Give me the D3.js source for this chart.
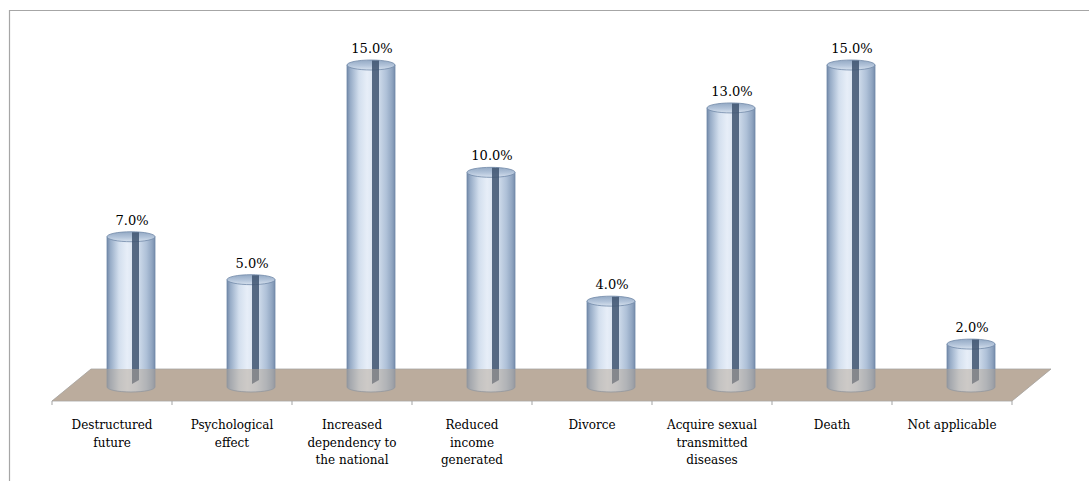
<!DOCTYPE html>
<html>
<head>
<meta charset="utf-8">
<script src="https://cdn.jsdelivr.net/npm/d3@7"></script>
<style>
  html, body { margin: 0; padding: 0; background: #fff; }
  svg { display: block; }
</style>
</head>
<body>
<script>
// Perceived consequences, share of respondents (%)
const categories = [
  "Destructured future",
  "Psychological effect",
  "Increased dependency to the national",
  "Reduced income generated",
  "Divorce",
  "Acquire sexual transmitted diseases",
  "Death",
  "Not applicable"
];
const values = [7.0, 5.0, 15.0, 10.0, 4.0, 13.0, 15.0, 2.0];
const labelLines = [
  ["Destructured", "future"],
  ["Psychological", "effect"],
  ["Increased", "dependency to", "the national"],
  ["Reduced", "income", "generated"],
  ["Divorce"],
  ["Acquire sexual", "transmitted", "diseases"],
  ["Death"],
  ["Not applicable"]
];

const W = 1089, H = 481;
const FONT = "DejaVu Serif, serif";
const svg = d3.select("body").append("svg").attr("width", W).attr("height", H);

// outer frame (top and left edges visible)
svg.append("path")
  .attr("d", `M9.5,${H} L9.5,10.5 L${W},10.5`)
  .attr("fill", "none").attr("stroke", "#a6a6a6").attr("stroke-width", 1.2);

// plot geometry
const x = d3.scaleBand().domain(categories).range([52, 1012]).paddingInner(0).paddingOuter(0);
const y = d3.scaleLinear().domain([0, 15]).range([387, 65]);
const floorFront = 401, floorBack = 369, depthX = 39;
const depthShift = 19;           // cylinders stand in the middle of the floor depth
const rx = 24, ry = 5;

const defs = svg.append("defs");
const bodyGrad = defs.append("linearGradient").attr("id", "cylBody")
  .attr("x1", "0%").attr("x2", "100%").attr("y1", "0%").attr("y2", "0%");
[
  [0, "#7389a8"], [0.07, "#97acc7"], [0.25, "#d3dfee"], [0.42, "#e7eef8"],
  [0.62, "#d6e1ef"], [0.82, "#afc1d8"], [0.94, "#8fa4c0"], [1, "#778dab"]
].forEach(([o, c]) => bodyGrad.append("stop").attr("offset", o).attr("stop-color", c));

const capGrad = defs.append("linearGradient").attr("id", "cylCap")
  .attr("x1", "0%").attr("x2", "0%").attr("y1", "0%").attr("y2", "100%");
[[0, "#93a9c4"], [0.55, "#b3c4da"], [1, "#d6e1ee"]]
  .forEach(([o, c]) => capGrad.append("stop").attr("offset", o).attr("stop-color", c));

const floorPts = [
  [x.range()[0], floorFront], [x.range()[1], floorFront],
  [x.range()[1] + depthX, floorBack], [x.range()[0] + depthX, floorBack]
];
const floorPath = "M" + floorPts.map(p => p.join(",")).join("L") + "Z";

// floor
svg.append("path").attr("d", floorPath)
  .attr("fill", "#c2b3a5").attr("stroke", "#a3a3a3").attr("stroke-width", 0.8);

// ticks along the front edge of the floor
const bounds = categories.map(c => x(c)).concat([x.range()[1]]);
svg.append("g").selectAll("line").data(bounds).join("line")
  .attr("x1", d => d).attr("x2", d => d)
  .attr("y1", floorFront).attr("y2", floorFront + 4)
  .attr("stroke", "#a3a3a3").attr("stroke-width", 1);

// cylinders
const bars = svg.append("g").selectAll("g").data(categories).join("g")
  .attr("transform", d => `translate(${x(d) + x.bandwidth() / 2 + depthShift},0)`);

bars.append("path")
  .attr("d", (d, i) => {
    const top = y(values[i]), base = y(0);
    return `M${-rx},${top} L${-rx},${base} A${rx},${ry} 0 0 0 ${rx},${base} L${rx},${top} Z`;
  })
  .attr("fill", "url(#cylBody)")
  .attr("stroke", "#6f88a8").attr("stroke-width", 0.8);

bars.append("ellipse")
  .attr("cx", 0).attr("cy", (d, i) => y(values[i]))
  .attr("rx", rx).attr("ry", ry)
  .attr("fill", "url(#cylCap)")
  .attr("stroke", "#7189a8").attr("stroke-width", 0.8);

// dark inner strip
bars.append("path")
  .attr("d", (d, i) => {
    const top = y(values[i]) - ry + 0.5, base = y(0);
    return `M1,${top} L8,${top} L8,${base - 7} L1,${base - 3} Z`;
  })
  .attr("fill", "#3e5470").attr("opacity", 0.85);

// translucent floor over the feet of the cylinders
svg.append("path").attr("d", floorPath)
  .attr("fill", "#b4a596").attr("opacity", 0.5);

// value labels
bars.append("text")
  .attr("x", 1)
  .attr("y", (d, i) => y(values[i]) - ry - 7)
  .attr("text-anchor", "middle")
  .attr("font-family", FONT)
  .attr("font-size", "13px")
  .attr("fill", "#000")
  .text((d, i) => d3.format(".1f")(values[i]) + "%");

// category labels
const cats = svg.append("g").selectAll("text").data(categories).join("text")
  .attr("x", d => x(d) + x.bandwidth() / 2)
  .attr("y", 429)
  .attr("text-anchor", "middle")
  .attr("font-family", FONT)
  .attr("font-size", "12px")
  .attr("fill", "#000");
cats.each(function (d, i) {
  d3.select(this).selectAll("tspan").data(labelLines[i]).join("tspan")
    .attr("x", x(d) + x.bandwidth() / 2)
    .attr("dy", (t, j) => j === 0 ? 0 : 17.5)
    .text(t => t);
});
</script>
</body>
</html>
